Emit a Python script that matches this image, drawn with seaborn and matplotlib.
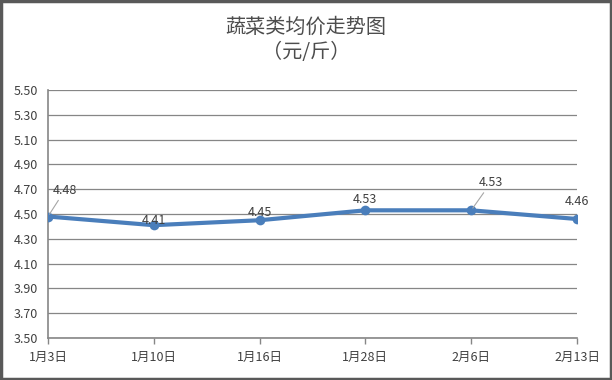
import matplotlib
matplotlib.use("Agg")
import matplotlib.pyplot as plt
import seaborn as sns
import pandas as pd
from matplotlib.patches import Rectangle

dates = ['1月3日', '1月10日', '1月16日', '1月28日', '2月6日', '2月13日']
prices = [4.48, 4.41, 4.45, 4.53, 4.53, 4.46]
yticks = [3.50, 3.70, 3.90, 4.10, 4.30, 4.50, 4.70, 4.90, 5.10, 5.30, 5.50]

sns.set_style("white")
plt.rcParams['font.family'] = ['Noto Sans CJK SC', 'DejaVu Sans']

df = pd.DataFrame({'date': dates, 'price': prices, 'pos': range(len(dates))})

fig = plt.figure(figsize=(6.12, 3.80), dpi=100)
ax = fig.add_axes([0.0784, 0.1105, 0.8644, 0.6525])

sns.lineplot(x='pos', y='price', data=df, ax=ax, color='#4a7ebb', linewidth=3.0,
             marker='o', markersize=7, markeredgewidth=0, zorder=3)

ax.set_xlim(0, len(dates) - 1)
ax.set_ylim(3.5, 5.5)
ax.set_yticks(yticks)
ax.set_yticklabels(['%.2f' % v for v in yticks])
ax.set_xticks(range(len(dates)))
ax.set_xticklabels(dates)
ax.set_xlabel('')
ax.set_ylabel('')
ax.grid(axis='y', color='#868686', linewidth=0.9)
ax.grid(axis='x', visible=False)
for s in ['top', 'right']:
    ax.spines[s].set_visible(False)
for s in ['left', 'bottom']:
    ax.spines[s].set_color('#868686')
    ax.spines[s].set_linewidth(1.2)
ax.tick_params(axis='y', length=0, labelsize=9, labelcolor='#404040', pad=7)
ax.tick_params(axis='x', length=4, width=1, color='#868686', direction='out',
               labelsize=9, labelcolor='#404040', pad=5)
ax.tick_params(axis='x', bottom=True)

# data labels: (offset x, offset y) in points, leader line or not
offsets = [(12, 14, True), (0, -1, False), (0, 1, False), (0, 3, False), (14, 15, True), (0, 8, False)]
for i, (p, (dx, dy, lead)) in enumerate(zip(prices, offsets)):
    if lead:
        ax.annotate('%.2f' % p, xy=(i, p), xytext=(dx, dy), textcoords='offset points',
                    ha='center', va='bottom', fontsize=9, color='#404040',
                    arrowprops=dict(arrowstyle='-', color='#a6a6a6', lw=0.8, shrinkA=0, shrinkB=2))
    else:
        ax.annotate('%.2f' % p, xy=(i, p), xytext=(dx, dy), textcoords='offset points',
                    ha='center', va='bottom', fontsize=9, color='#404040')

fig.text(0.5, 0.928, '蔬菜类均价走势图', ha='center', va='center', fontsize=14.5,
         color='#4d4d4d', fontweight='medium')
fig.text(0.5, 0.862, '（元/斤）', ha='center', va='center', fontsize=14.5,
         color='#4d4d4d', fontweight='medium')

fig.patches.append(Rectangle((0.002, 0.003), 0.996, 0.994, transform=fig.transFigure,
                             fill=False, edgecolor='#595959', linewidth=2.5))

fig.savefig('out.png', dpi=100)
